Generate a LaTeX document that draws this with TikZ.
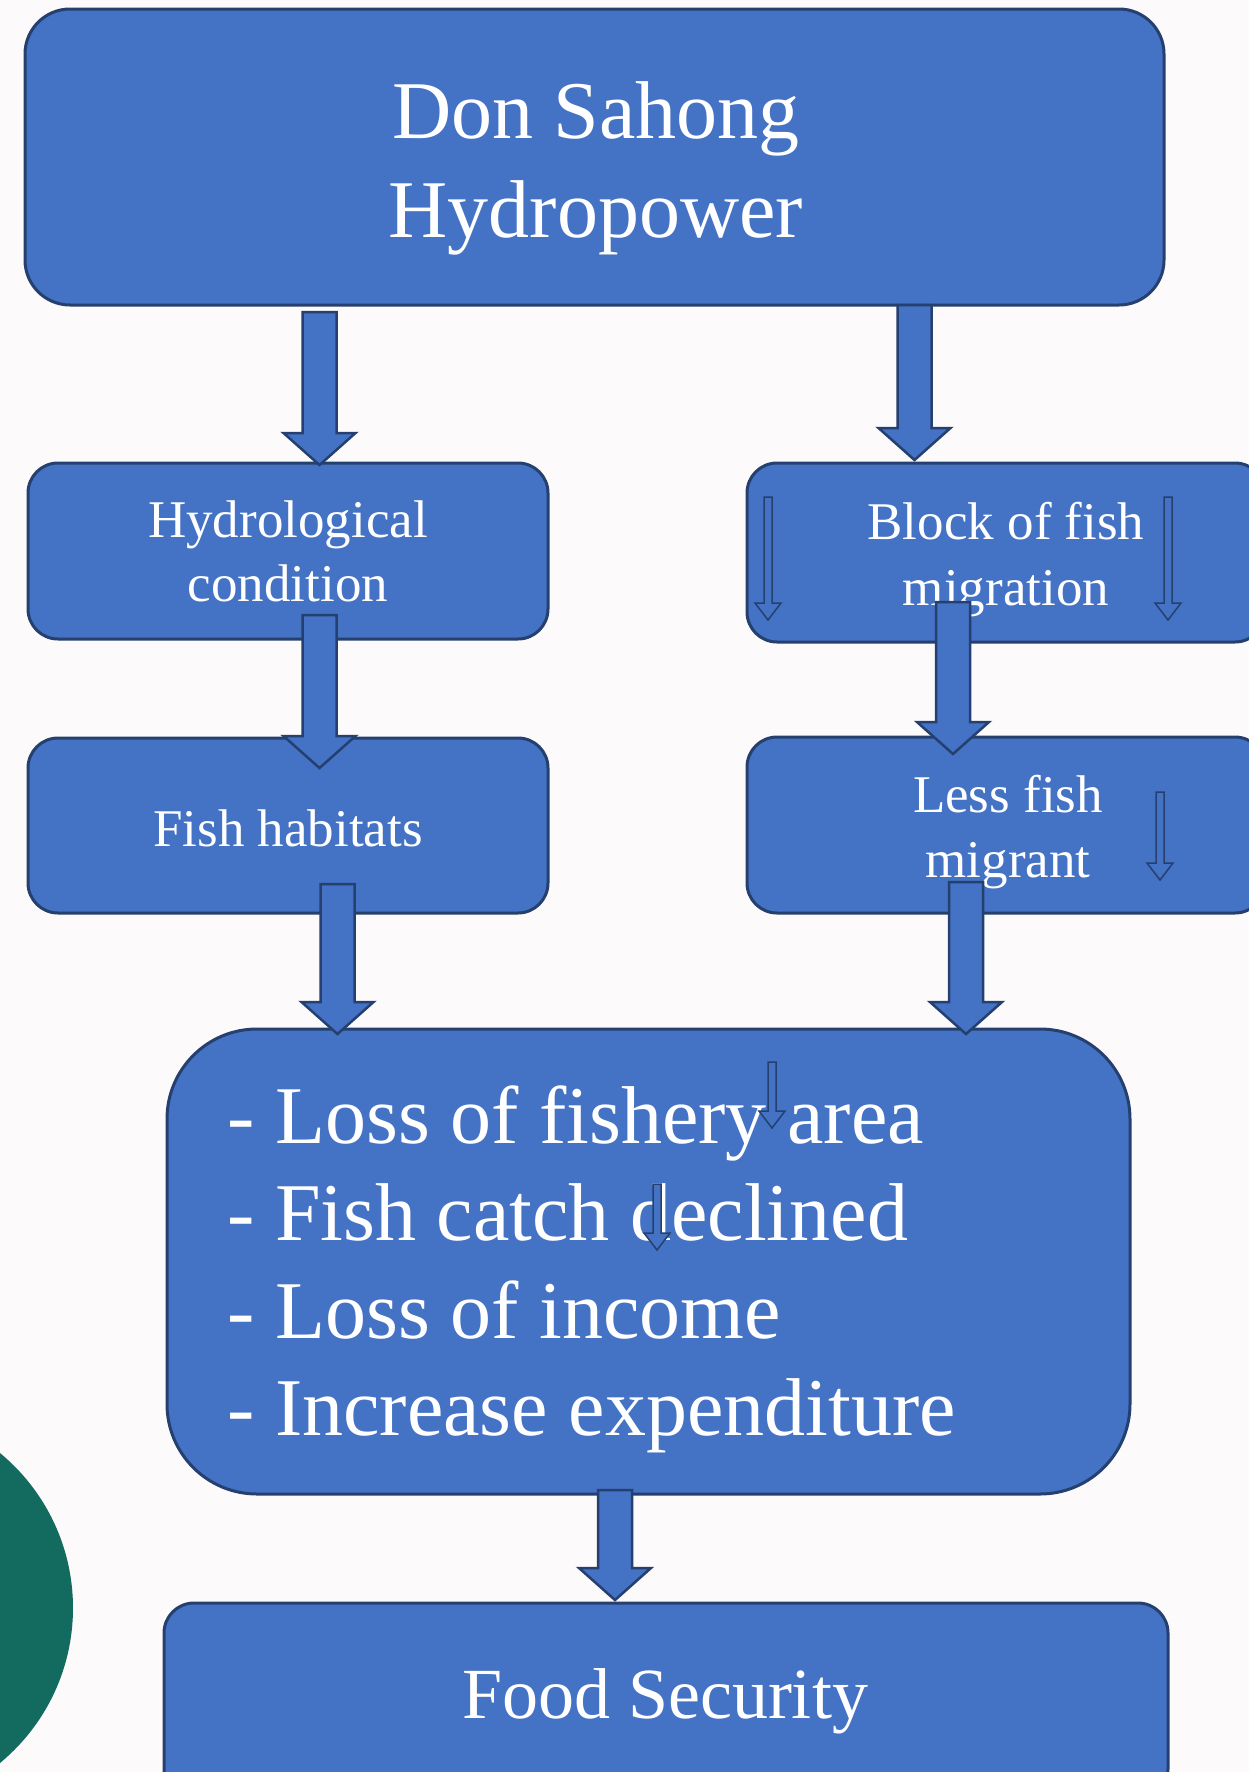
\documentclass[tikz,border=0pt]{standalone}
\usepackage{fontspec}
\setmainfont{Liberation Serif}
\usetikzlibrary{calc}
\definecolor{boxblue}{HTML}{4472C4}
\definecolor{boxline}{HTML}{25406F}
\definecolor{paper}{HTML}{FCFAFB}
\definecolor{circgreen}{HTML}{136A5F}

% block arrow from (#1) down to its tip (#2)
\newcommand{\fatarrow}[2]{%
\filldraw[fatarr] ($(#1)+(-17,0)$) -- ($(#2)+(-17,-32)$) -- ($(#2)+(-36,-32)$) -- (#2)
 -- ($(#2)+(36,-32)$) -- ($(#2)+(17,-32)$) -- ($(#1)+(17,0)$) -- cycle;}
\newcommand{\thinarrow}[2]{%
\filldraw[thinarr] ($(#1)+(-4,0)$) -- ($(#2)+(-4,-17)$) -- ($(#2)+(-13,-17)$) -- (#2)
 -- ($(#2)+(13,-17)$) -- ($(#2)+(4,-17)$) -- ($(#1)+(4,0)$) -- cycle;}

\tikzset{
 box/.style={draw=boxline, fill=boxblue, line width=3pt, rounded corners=30pt, inner sep=0pt},
 txt/.style={text=white, align=center, inner sep=0pt, anchor=base},
 fatarr/.style={draw=boxline, fill=boxblue, line width=2.5pt, line join=miter},
 thinarr/.style={draw=boxline, fill=boxblue, line width=1.5pt, line join=miter}
}

\begin{document}
\begin{tikzpicture}[x=1pt, y=-1pt]
\useasboundingbox (0,0) rectangle (1249,1772);
\clip (0,0) rectangle (1249,1772);
\fill[paper] (0,0) rectangle (1249,1772);
\fill[circgreen] (-128,1608) circle (201);

% boxes
\node[box, rounded corners=45pt, minimum width=1139pt, minimum height=296pt] (dam) at (594.5,157) {};
\node[box, minimum width=520pt, minimum height=176pt] (hydro) at (288,551) {};
\node[box, minimum width=520pt, minimum height=175pt] (habitat) at (288,825.5) {};
\node[box, minimum width=518pt, minimum height=179pt] (block) at (1006,552.5) {};
\node[box, minimum width=518pt, minimum height=176pt] (less) at (1006,825) {};
\node[box, rounded corners=90pt, minimum width=963pt, minimum height=465pt] (impact) at (648.5,1261.5) {};
\node[box, minimum width=1004pt, minimum height=196pt] (food) at (666,1701) {};

% texts (base = last line)
\node[txt, font={\fontsize{82}{99}\selectfont}] (damtxt) at (596,237) {Don Sahong\\Hydropower};
\node[txt, font={\fontsize{53}{64}\selectfont}] (hydrotxt) at (288,601) {Hydrological\\condition};
\node[txt, font={\fontsize{53}{64}\selectfont}] (habitattxt) at (288,846) {Fish habitats};
\node[txt, font={\fontsize{53}{66}\selectfont}] (blocktxt) at (1006,605) {Block of fish\\migration};
\node[txt, font={\fontsize{53}{65}\selectfont}] (lesstxt) at (1008,877) {Less fish\\migrant};
\node[txt, align=left, anchor=base west, font={\fontsize{82}{97.5}\selectfont}] (impacttxt) at (227,1435.5)
 {- Loss of fishery area\\- Fish catch declined\\- Loss of income\\- Increase expenditure};
\node[txt, font={\fontsize{72}{86}\selectfont}] (foodtxt) at (665,1718) {Food Security};

% arrows
\coordinate (a1s) at (319.5,312);  \coordinate (a1e) at (319.5,465);
\coordinate (a2s) at (319.5,615);  \coordinate (a2e) at (319.5,768);
\coordinate (a3s) at (914.5,305);  \coordinate (a3e) at (914.5,460);
\coordinate (a4s) at (953,602);    \coordinate (a4e) at (953,754);
\coordinate (a5s) at (337.5,884);  \coordinate (a5e) at (337.5,1034);
\coordinate (a6s) at (966,882);    \coordinate (a6e) at (966,1034);
\coordinate (a7s) at (615,1490);   \coordinate (a7e) at (615,1600);
\fatarrow{a1s}{a1e}
\fatarrow{a2s}{a2e}
\fatarrow{a3s}{a3e}
\fatarrow{a4s}{a4e}
\fatarrow{a5s}{a5e}
\fatarrow{a6s}{a6e}
\fatarrow{a7s}{a7e}

% small arrows
\coordinate (t1s) at (768,497);  \coordinate (t1e) at (768,620);
\coordinate (t2s) at (1168,497); \coordinate (t2e) at (1168,620);
\coordinate (t3s) at (1160,792); \coordinate (t3e) at (1160,880);
\coordinate (t4s) at (772,1062); \coordinate (t4e) at (772,1128);
\coordinate (t5s) at (657,1184); \coordinate (t5e) at (657,1250);
\thinarrow{t1s}{t1e}
\thinarrow{t2s}{t2e}
\thinarrow{t3s}{t3e}
\thinarrow{t4s}{t4e}
\thinarrow{t5s}{t5e}
\end{tikzpicture}
\end{document}
